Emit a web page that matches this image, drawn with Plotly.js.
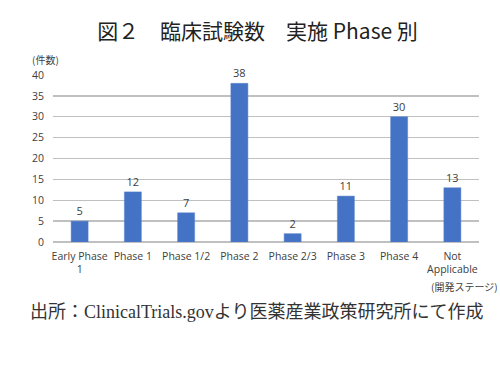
<!DOCTYPE html>
<html><head><meta charset="utf-8">
<script src="https://cdn.plot.ly/plotly-3.0.1.min.js"></script>
<style>body{margin:0;background:#fff}#c{width:500px;height:370px}</style>
</head><body><div id="c"></div>
<script>
const categories = ["Early Phase<br>1", "Phase 1", "Phase 1/2", "Phase 2", "Phase 2/3", "Phase 3", "Phase 4", "Not<br>Applicable"];
const counts = [5, 12, 7, 38, 2, 11, 30, 13];
const yTicks = [0, 5, 10, 15, 20, 25, 30, 35, 40];

const labelFont = {family: "Open Sans, Noto Sans CJK JP, sans-serif", size: 10.5, color: "#404040"};

Plotly.newPlot("c", [{
  type: "bar", x: categories, y: counts,
  marker: {color: "#4472C4", line: {color: "#5b86d0", width: 0.5}},
  text: counts.map(String), textposition: "outside", cliponaxis: false,
  textfont: {family: "Open Sans, sans-serif", size: 11, color: "#404040"},
  hoverinfo: "none"
}], {
  width: 500, height: 370,
  margin: {l: 53, r: 21, t: 75, b: 128},
  paper_bgcolor: "#fff", plot_bgcolor: "#fff",
  bargap: 0.68, showlegend: false,
  title: {text: "図２　臨床試験数　実施 Phase 別", x: 0.515, xanchor: "center", y: 0.915, yanchor: "middle",
    font: {family: "Noto Sans CJK JP, sans-serif", size: 21, color: "#222"}},
  xaxis: {tickfont: labelFont, showgrid: false, ticks: "", showline: false, automargin: false, ticklabelstandoff: 6},
  yaxis: {range: [0, 40], tickvals: yTicks, tickfont: labelFont, showgrid: true, gridcolor: "#c0c0c0", gridwidth: 1.3,
    zeroline: true, zerolinecolor: "#c0c0c0", zerolinewidth: 1.3, ticks: "", ticklabelstandoff: 8, automargin: false},
  annotations: [
    {text: "(件数)", xref: "paper", yref: "paper", x: -0.055, y: 1.095, xanchor: "left", yanchor: "middle", showarrow: false,
      font: {family: "Noto Sans CJK JP, sans-serif", size: 10, color: "#404040"}},
    {text: "(開発ステージ)", xref: "paper", yref: "paper", x: 1.05, y: -0.265, xanchor: "right", yanchor: "middle", showarrow: false,
      font: {family: "Noto Sans CJK JP, sans-serif", size: 10, color: "#404040"}},
    {text: "出所：ClinicalTrials.govより医薬産業政策研究所にて作成", xref: "paper", yref: "paper", x: 0.477, xanchor: "center",
      y: -0.42, yanchor: "middle", showarrow: false,
      font: {family: "Liberation Serif, Noto Sans CJK JP, serif", size: 18, color: "#333"}}
  ]
}, {displayModeBar: false, staticPlot: true});
</script></body></html>
